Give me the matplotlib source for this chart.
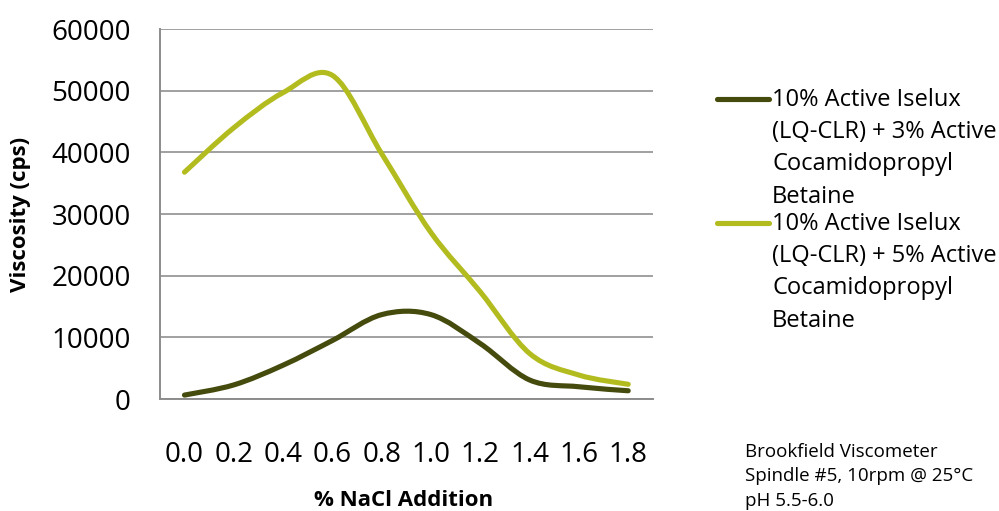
import matplotlib.pyplot as plt
from matplotlib.path import Path
from matplotlib.patches import PathPatch
from matplotlib.lines import Line2D

plt.rcParams['font.family'] = ['Open Sans', 'DejaVu Sans']

nacl = ['0.0', '0.2', '0.4', '0.6', '0.8', '1.0', '1.2', '1.4', '1.6', '1.8']
visc_3pct = [650, 2300, 5500, 9500, 13700, 13700, 9000, 3100, 2000, 1350]
visc_5pct = [36800, 44000, 49700, 52500, 39800, 27000, 17400, 7400, 3900, 2400]
labels = ['10% Active Iselux\n(LQ-CLR) + 3% Active\nCocamidopropyl\nBetaine',
          '10% Active Iselux\n(LQ-CLR) + 5% Active\nCocamidopropyl\nBetaine']
colors = ['#454A0D', '#B3BC1F']
note = 'Brookfield Viscometer\nSpindle #5, 10rpm @ 25°C\npH 5.5-6.0'


def smooth_path(xs, ys):
    # excel-like smoothed line: cubic bezier through every point
    pts = list(zip(xs, ys))
    verts = [pts[0]]
    codes = [Path.MOVETO]
    n = len(pts)
    for i in range(n - 1):
        p0 = pts[i - 1] if i > 0 else pts[i]
        p1 = pts[i]
        p2 = pts[i + 1]
        p3 = pts[i + 2] if i + 2 < n else pts[i + 1]
        c1 = (p1[0] + (p2[0] - p0[0]) / 6, p1[1] + (p2[1] - p0[1]) / 6)
        c2 = (p2[0] - (p3[0] - p1[0]) / 6, p2[1] - (p3[1] - p1[1]) / 6)
        verts += [c1, c2, p2]
        codes += [Path.CURVE4] * 3
    return Path(verts, codes)


fig = plt.figure(figsize=(9.99, 5.11), dpi=100)
ax = fig.add_axes([0.160, 0.219, 0.4935, 0.724])

xs = list(range(len(nacl)))
for ys, c in zip([visc_3pct, visc_5pct], colors):
    patch = PathPatch(smooth_path(xs, ys), facecolor='none', edgecolor=c,
                      lw=3.7, capstyle='round', joinstyle='round', zorder=3)
    ax.add_patch(patch)

ax.set_xlim(-0.5, len(nacl) - 0.5)
ax.set_ylim(0, 60000)
ax.set_yticks(range(0, 60001, 10000))
ax.set_xticks(xs)
ax.set_xticklabels(nacl)
ax.tick_params(axis='both', length=0, labelsize=20)
ax.tick_params(axis='y', pad=21)
ax.tick_params(axis='x', pad=30)
ax.grid(axis='y', color='#A0A0A0', lw=1.4)
ax.set_axisbelow(True)
for s in ['top', 'right']:
    ax.spines[s].set_visible(False)
for s in ['left', 'bottom']:
    ax.spines[s].set_color('#8C8C8C')
    ax.spines[s].set_linewidth(1.4)

ax.set_ylabel('Viscosity (cps)', fontsize=16, fontweight='bold')
ax.yaxis.set_label_coords(-0.262, 0.5)
fig.text(0.404, 0.021, '% NaCl Addition', fontsize=16, fontweight='bold',
         ha='center', va='center')

# legend drawn by hand so the line sits on the first text line
leg_y = [1 - 99 / 511, 1 - 223 / 511]
for lab, c, y in zip(labels, colors, leg_y):
    fig.add_artist(Line2D([0.718, 0.770], [y, y], color=c, lw=3.7,
                          solid_capstyle='round', transform=fig.transFigure))
    fig.text(0.773, y + 0.021, lab, fontsize=17, ha='left', va='top',
             linespacing=1.45)

fig.text(0.746, 1 - 443 / 511, note, fontsize=13.5, ha='left', va='top',
         linespacing=1.45)

fig.savefig('out.png', dpi=100)
